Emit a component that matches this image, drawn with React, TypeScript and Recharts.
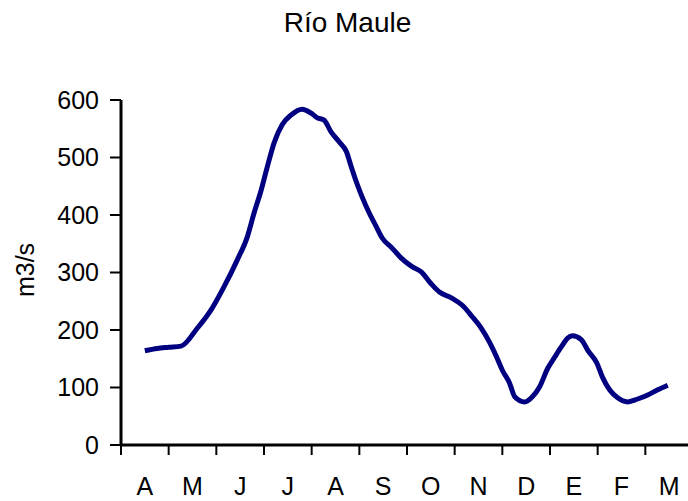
import React from 'react';
import { LineChart, Line, XAxis, YAxis } from 'recharts';

const monthLabels = ['A', 'M', 'J', 'J', 'A', 'S', 'O', 'N', 'D', 'E', 'F', 'M'];

// position along the year in months (0 = start of April)
const monthPos = [
  0.5, 0.76, 1.0, 1.26, 1.6, 1.89, 2.16, 2.44, 2.65, 2.79, 2.94, 3.07, 3.21, 3.38,
  3.57, 3.8, 3.99, 4.12, 4.26, 4.41, 4.58, 4.73, 4.83, 4.94, 5.06, 5.21, 5.36, 5.48,
  5.67, 5.88, 6.09, 6.3, 6.51, 6.68, 6.93, 7.16, 7.37, 7.56, 7.73, 7.88, 8.0, 8.15,
  8.26, 8.47, 8.63, 8.78, 8.95, 9.1, 9.24, 9.37, 9.47, 9.66, 9.79, 9.98, 10.1, 10.25,
  10.42, 10.63, 10.84, 11.05, 11.26, 11.47,
];

// caudal (m3/s)
const flow = [
  164, 168, 170, 172, 203, 235, 275, 322, 362, 403, 443, 484, 525, 557,
  574, 584, 577, 569, 565, 544, 527, 510, 484, 457, 431, 403, 379, 360,
  344, 325, 311, 301, 280, 266, 256, 243, 223, 203, 179, 153, 130, 108,
  84, 75, 84, 101, 133, 153, 171, 186, 190, 183, 165, 143, 118, 96,
  82, 75, 80, 87, 96, 104,
];

const yTicks = [0, 100, 200, 300, 400, 500, 600];
const monthEdges = [0, 1, 2, 3, 4, 5, 6, 7, 8, 9, 10, 11, 12];
const labelPos = monthLabels.map((_, i) => i + 0.5);

const data = monthPos.map((m, i) => ({ m, flow: flow[i] }));

const FONT = '"Liberation Sans", Arial, Helvetica, sans-serif';

export default function App() {
  return (
    <div
      style={{
        position: 'absolute',
        left: 0,
        top: 0,
        width: 688,
        height: 501,
        overflow: 'hidden',
        background: '#fff',
      }}
    >
      <div
        style={{
          position: 'absolute',
          left: 0,
          top: 9,
          width: 695,
          textAlign: 'center',
          fontFamily: FONT,
          fontSize: 28,
          lineHeight: '28px',
          color: '#000',
          whiteSpace: 'nowrap',
        }}
      >
        Río Maule
      </div>
      <div
        style={{
          position: 'absolute',
          left: 25,
          top: 270,
          transform: 'translate(-50%, -50%) rotate(-90deg)',
          fontFamily: FONT,
          fontSize: 25,
          lineHeight: '25px',
          color: '#000',
          whiteSpace: 'nowrap',
        }}
      >
        m3/s
      </div>
      <div style={{ position: 'absolute', left: 0, top: 0 }}>
        <LineChart
          width={700}
          height={501}
          data={data}
          margin={{ top: 100, right: 7, bottom: 54, left: 120 }}
        >
          <XAxis
            xAxisId="edges"
            dataKey="m"
            type="number"
            domain={[0, 12]}
            ticks={monthEdges}
            interval={0}
            tickFormatter={() => ''}
            tick={{ fontSize: 1, fill: 'none' }}
            tickSize={10}
            height={1}
            axisLine={{ stroke: '#000', strokeWidth: 3 }}
            tickLine={{ stroke: '#000', strokeWidth: 2 }}
          />
          <XAxis
            xAxisId="labels"
            dataKey="m"
            type="number"
            domain={[0, 12]}
            ticks={labelPos}
            interval={0}
            tickFormatter={(v: number) => monthLabels[Math.floor(v)]}
            axisLine={false}
            tickLine={false}
            tickSize={10}
            tickMargin={21}
            height={1}
            tick={{ fill: '#000', fontSize: 25, fontFamily: FONT }}
          />
          <YAxis
            type="number"
            domain={[0, 600]}
            ticks={yTicks}
            interval={0}
            width={1}
            tickSize={11}
            tickMargin={11}
            axisLine={{ stroke: '#000', strokeWidth: 3 }}
            tickLine={{ stroke: '#000', strokeWidth: 2 }}
            tick={{ fill: '#000', fontSize: 25, fontFamily: FONT }}
          />
          <Line
            xAxisId="edges"
            dataKey="flow"
            type="monotone"
            stroke="#000080"
            strokeWidth={5}
            dot={false}
            isAnimationActive={false}
          />
        </LineChart>
      </div>
    </div>
  );
}
